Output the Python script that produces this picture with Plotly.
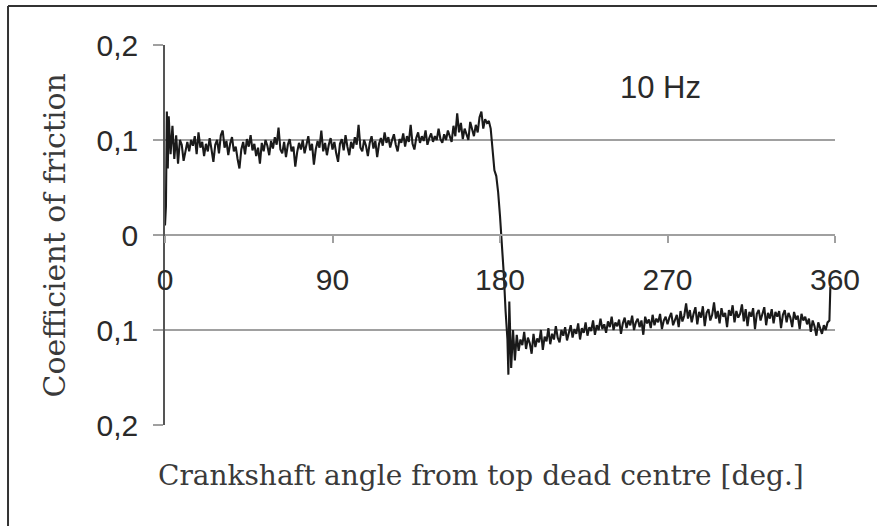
import plotly.graph_objects as go

# ---- data ----
# start transient (deg, coefficient)
start_angle = [0, 0.5, 1, 1.5, 2, 3, 4, 5, 6, 7, 8]
start_mu = [0.010, 0.030, 0.130, 0.070, 0.125, 0.085, 0.115, 0.080, 0.105, 0.075, 0.100]

# forward stroke, 1-degree samples from 9 to 175 deg (x1000)
fwd_angle = list(range(9, 176))
fwd_mu_milli = [
    95, 78, 90, 98, 88, 100, 94, 104, 85, 108, 92, 98, 83, 96, 88, 102, 90, 77, 95, 100,
    86, 105, 110, 92, 99, 84, 96, 103, 88, 93, 80, 70, 90, 98, 85, 101, 93, 105, 89, 96,
    83, 92, 75, 97, 88, 100, 94, 84, 99, 91, 103, 95, 113, 90, 86, 98, 82, 95, 101, 88,
    93, 72, 87, 97, 90, 100, 86, 95, 104, 89, 96, 74, 90, 99, 92, 110, 88, 97, 84, 95,
    102, 90, 98, 86, 77, 96, 101, 89, 105, 93, 84, 98, 91, 103, 95, 116, 92, 88, 100, 94,
    83, 97, 104, 91, 99, 82, 96, 102, 94, 108, 97, 103, 92, 100, 106, 95, 88, 101, 97, 107,
    93, 104, 98, 116, 96, 90, 102, 108, 97, 104, 99, 110, 95, 102, 107, 98, 104, 100, 112, 101,
    97, 106, 100, 110, 103, 98, 115, 104, 128, 108, 118, 101, 112, 106, 100, 119, 110, 104, 116, 108,
    124, 130, 112, 122, 118, 120, 112,
]

# reversal at bottom dead centre
rev_angle = [176, 177, 178, 179, 180, 181, 182, 183, 184, 184.5]
rev_mu = [0.090, 0.068, 0.062, 0.045, 0.020, -0.005, -0.040, -0.080, -0.110, -0.147]

# return stroke, 1-degree samples from 185 to 357 deg (x1000)
ret_angle = list(range(185, 358))
ret_mu_milli = [
    -70, -140, -100, -132, -105, -122, -110, -116, -102, -120, -108, -114, -125, -104, -118, -109,
    -113, -100, -121, -107, -112, -98, -115, -104, -110, -96, -108, -113, -100, -106, -97, -111,
    -102, -95, -108, -99, -104, -93, -110, -98, -103, -92, -106, -97, -101, -90, -105, -95,
    -100, -88, -99, -94, -103, -91, -97, -86, -100, -92, -96, -89, -104, -93, -87, -98,
    -90, -95, -85, -100, -92, -88, -97, -90, -105, -86, -93, -89, -98, -84, -95, -88,
    -92, -83, -99, -90, -86, -94, -87, -82, -95, -89, -84, -97, -80, -91, -85, -72,
    -88, -79, -92, -83, -76, -94, -81, -87, -75, -96, -82, -78, -90, -84, -71, -88,
    -80, -93, -77, -86, -82, -97, -79, -85, -74, -92, -80, -87, -83, -73, -91, -78,
    -96, -81, -86, -77, -99, -83, -79, -90, -84, -76, -95, -82, -88, -78, -93, -81,
    -86, -80, -98, -84, -79, -92, -82, -87, -97, -81, -89, -85, -99, -83, -90, -86,
    -94, -88, -102, -90, -96, -106, -92, -99, -104, -95, -100, -92, -90,
]

# final spike near top dead centre
end_angle = [357.5, 358]
end_mu = [-0.055, -0.056]

y_tick_vals = [0.2, 0.1, 0, -0.1, -0.2]
y_tick_text = ["0,2", "0,1", "0", "0,1", "0,2"]
x_tick_vals = [0, 90, 180, 270, 360]
x_tick_text = ["0", "90", "180", "270", "360"]

angle = start_angle + fwd_angle + rev_angle + ret_angle + end_angle
mu = (start_mu + [v / 1000 for v in fwd_mu_milli] + rev_mu
      + [v / 1000 for v in ret_mu_milli] + end_mu)

SANS = "Liberation Sans, Arial, sans-serif"
SERIF = "DejaVu Serif, serif"

fig = go.Figure()
fig.add_trace(go.Scatter(
    x=angle, y=mu, mode="lines",
    line=dict(color="#1a1a1a", width=2.1),
    hoverinfo="skip", showlegend=False,
))

fig.update_layout(
    width=877, height=526,
    margin=dict(l=165, r=42, t=45, b=101),
    paper_bgcolor="white", plot_bgcolor="white",
    font=dict(family=SANS, color="#2a2a2a"),
    showlegend=False,
    xaxis=dict(
        range=[0, 360], anchor="free", position=0.5,
        showgrid=False, zeroline=False,
        showline=True, linecolor="#a0a0a0", linewidth=2,
        ticks="outside", ticklen=7, tickcolor="#a0a0a0", tickwidth=1.5,
        tickvals=x_tick_vals, ticktext=x_tick_text,
        tickfont=dict(size=30, family=SANS, color="#2a2a2a"),
        ticklabelstandoff=11,
    ),
    yaxis=dict(
        range=[-0.2, 0.2], domain=[0, 1],
        showgrid=True, gridcolor="#a0a0a0", gridwidth=2,
        zeroline=False,
        showline=True, linecolor="#555555", linewidth=1.5,
        ticks="outside", ticklen=10, tickcolor="#a0a0a0", tickwidth=2,
        tickvals=y_tick_vals, ticktext=y_tick_text,
        tickfont=dict(size=30, family=SANS, color="#2a2a2a"),
        ticklabelstandoff=9,
    ),
    annotations=[
        dict(x=266, y=0.155, xref="x", yref="y", text="10 Hz", showarrow=False,
             font=dict(size=31, family=SANS, color="#2a2a2a")),
        dict(x=-0.165, y=0.5, xref="paper", yref="paper", text="Coefficient of friction",
             textangle=-90, showarrow=False, xanchor="center",
             font=dict(size=30, family=SERIF, color="#3a3a3a")),
        dict(x=-0.013, y=-0.182, xref="paper", yref="paper", xanchor="left",
             text="Crankshaft angle from top dead centre [deg.]", showarrow=False,
             font=dict(size=28, family=SERIF, color="#3a3a3a")),
    ],
    shapes=[
        dict(type="line", xref="paper", yref="paper", x0=-0.2343, x1=1.1, y0=1.1026, y1=1.1026,
             line=dict(color="#333333", width=2)),
        dict(type="line", xref="paper", yref="paper", x0=-0.2343, x1=-0.2343, y0=1.1026, y1=-0.3,
             line=dict(color="#333333", width=2)),
    ],
)

fig.write_html("out.html")
